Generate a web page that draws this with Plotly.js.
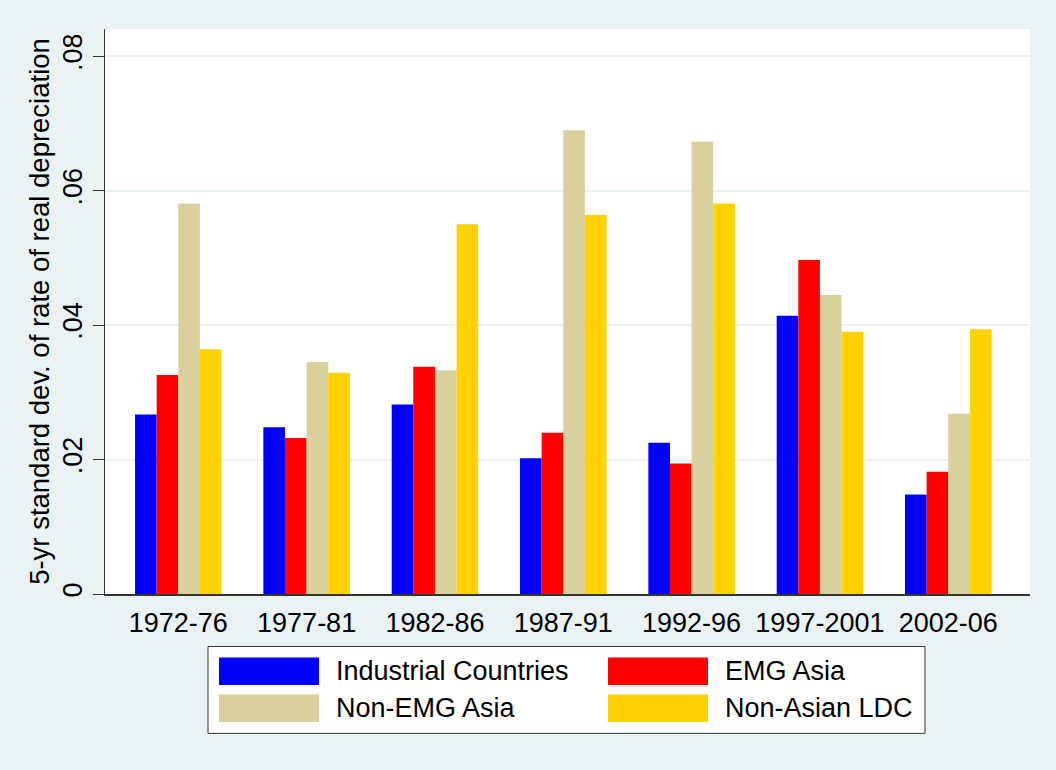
<!DOCTYPE html>
<html>
<head>
<meta charset="utf-8">
<script src="https://cdn.plot.ly/plotly-3.0.1.min.js"></script>
<style>html,body{margin:0;padding:0;background:#EAF2F3;}</style>
</head>
<body>
<div id="chart" style="width:1056px;height:770px;"></div>
<script>
// ---- data ----
var periods = ["1972-76", "1977-81", "1982-86", "1987-91", "1992-96", "1997-2001", "2002-06"];
var seriesNames = ["Industrial Countries", "EMG Asia", "Non-EMG Asia", "Non-Asian LDC"];
var industrial = [0.0267, 0.0248, 0.0282, 0.0202, 0.0225, 0.0414, 0.0148];
var emgAsia    = [0.0326, 0.0232, 0.0338, 0.0240, 0.0194, 0.0497, 0.0182];
var nonEmgAsia = [0.0581, 0.0345, 0.0333, 0.0690, 0.0673, 0.0445, 0.0268];
var nonAsianLdc= [0.0364, 0.0329, 0.0550, 0.0564, 0.0581, 0.0390, 0.0394];
var yTickVals = [0, 0.02, 0.04, 0.06, 0.08];
var yTickText = ["0", ".02", ".04", ".06", ".08"];

var colors = ["#0000FF", "#FF0000", "#D8D19E", "#FFD200"];
var seriesValues = [industrial, emgAsia, nonEmgAsia, nonAsianLdc];

var FONT = "Liberation Sans, Arial, sans-serif";

var traces = seriesValues.map(function (vals, i) {
  return {
    type: "bar",
    name: seriesNames[i],
    x: periods,
    y: vals,
    marker: {color: colors[i], line: {width: 0}},
    showlegend: false
  };
});

// custom legend box laid out in pixel terms, converted to paper coords
var W = 1056, H = 770;
var mL = 105, mR = 26, mT = 29, mB = 175.5;
var pw = W - mL - mR, ph = H - mT - mB;
function px(x) { return (x - mL) / pw; }
function py(y) { return (H - mB - y) / ph; }

var shapes = [{
  type: "rect", xref: "paper", yref: "paper",
  x0: px(208), x1: px(925), y0: py(647), y1: py(734),
  fillcolor: "#FFFFFF", line: {color: "#333333", width: 1}
}];
var annotations = [];
var cols = [[219, 319, 334], [608, 708, 723]];
var rows = [[658, 685.5], [695, 722.5]];
seriesNames.forEach(function (name, i) {
  var c = cols[i % 2], r = rows[Math.floor(i / 2)];
  shapes.push({
    type: "rect", xref: "paper", yref: "paper",
    x0: px(c[0]), x1: px(c[1]), y0: py(r[0]), y1: py(r[1]),
    fillcolor: colors[i], line: {width: 0}
  });
  annotations.push({
    xref: "paper", yref: "paper",
    x: px(c[2]), y: py((r[0] + r[1]) / 2),
    xanchor: "left", yanchor: "middle",
    text: name, showarrow: false,
    font: {family: FONT, size: 27, color: "#000000"}
  });
});

var layout = {
  width: W, height: H,
  paper_bgcolor: "#EAF2F3",
  plot_bgcolor: "#FFFFFF",
  margin: {l: mL, r: mR, t: mT, b: mB, pad: 0},
  barmode: "group",
  bargap: 0.326,
  bargroupgap: 0,
  font: {family: FONT, color: "#000000"},
  xaxis: {
    type: "category",
    range: [-0.571, 6.637],
    showgrid: false,
    zeroline: false,
    showline: true, linecolor: "#333333", linewidth: 1.5,
    ticks: "outside", ticklen: 4, tickcolor: "rgba(0,0,0,0)",
    tickfont: {family: FONT, size: 27, color: "#000000"},
    fixedrange: true
  },
  yaxis: {
    range: [0, 0.08406],
    tickvals: yTickVals,
    ticktext: yTickText,
    tickangle: -90,
    ticks: "outside", ticklen: 11, tickcolor: "#333333", tickwidth: 1,
    tickfont: {family: FONT, size: 27, color: "#000000"},
    showgrid: true, gridcolor: "#EAF2F3", gridwidth: 2,
    zeroline: false,
    showline: true, linecolor: "#333333", linewidth: 1.5,
    title: {
      text: "5-yr standard dev. of rate of real depreciation",
      font: {family: FONT, size: 27.5, color: "#000000"},
      standoff: 0
    },
    fixedrange: true
  },
  shapes: shapes,
  annotations: annotations
};

Plotly.newPlot("chart", traces, layout, {displayModeBar: false, staticPlot: true});
</script>
</body>
</html>
